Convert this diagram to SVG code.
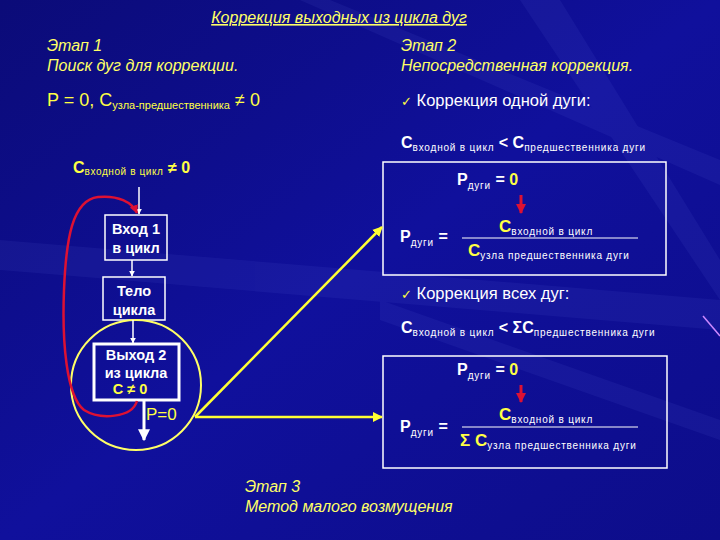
<svg xmlns="http://www.w3.org/2000/svg" width="720" height="540" viewBox="0 0 720 540">
<defs>
<linearGradient id="bg" x1="0" y1="0" x2="1" y2="1">
<stop offset="0" stop-color="#0b0b78"/>
<stop offset="0.5" stop-color="#10109c"/>
<stop offset="1" stop-color="#0d0d8a"/>
</linearGradient>
<marker id="aw" viewBox="0 0 10 10" refX="9" refY="5" markerWidth="4" markerHeight="4" orient="auto"><path d="M0,0 L10,5 L0,10 z" fill="#ffffff"/></marker>
<marker id="ay" viewBox="0 0 10 10" refX="9" refY="5" markerWidth="4" markerHeight="4" orient="auto"><path d="M0,0 L10,5 L0,10 z" fill="#ffff33"/></marker>
<marker id="ar" viewBox="0 0 10 10" refX="9" refY="5" markerWidth="3.5" markerHeight="3.5" orient="auto"><path d="M0,0 L10,5 L0,10 z" fill="#dd1133"/></marker>
<style>
text{font-family:"Liberation Sans",Arial,sans-serif}
.it{font-style:italic;fill:#ffff66;font-size:16px}
.w{fill:#ffffff}
.y{fill:#ffff44}
.b{font-weight:bold}
.box{fill:none;stroke:#ffffff;stroke-width:1.5}
.fb{fill:none;stroke:#ffffff;stroke-width:1.5}
.sub{font-size:10px;font-weight:normal;letter-spacing:0.8px}
</style>
</defs>
<rect width="720" height="540" fill="url(#bg)"/>
<g opacity="0.07" fill="#8090ff">
<polygon points="520,0 560,0 720,260 720,300"/>
<polygon points="300,0 330,0 720,160 720,185"/>
<polygon points="0,240 720,300 720,330 0,270"/>
<polygon points="380,300 720,420 720,440 380,320"/>
</g>
<line x1="703" y1="316" x2="720" y2="336" stroke="#cc88ff" stroke-width="1.5"/>

<g id="title">
<text x="339" y="23" text-anchor="middle" class="it" font-size="17.5" text-decoration="underline">Коррекция выходных из цикла дуг</text>
</g>
<g id="stage1">
<text x="47" y="51" class="it">Этап 1</text>
<text x="47" y="71" class="it">Поиск дуг для коррекции.</text>
<text x="47" y="106" class="y" font-size="18">P = 0, C<tspan font-size="11" dy="3">узла-предшественника</tspan><tspan dy="-3"> ≠ 0</tspan></text>
</g>
<g id="stage2">
<text x="401" y="51" class="it">Этап 2</text>
<text x="401" y="71" class="it">Непосредственная коррекция.</text>
<text x="401" y="106" font-size="16.5"><tspan class="y" font-size="13">✓</tspan><tspan class="w"> Коррекция одной дуги:</tspan></text>
<text x="401" y="148" class="w b" font-size="16">C<tspan class="sub" dy="3">входной в цикл</tspan><tspan dy="-3"> &lt; C</tspan><tspan class="sub" dy="3">предшественника дуги</tspan></text>
</g>
<g id="box1">
<rect x="383" y="162" width="283" height="113" class="box"/>
<text x="457" y="185" class="w b" font-size="16">P<tspan class="sub" dy="4">дуги</tspan><tspan dy="-4"> = </tspan><tspan class="y">0</tspan></text>
<text x="400" y="242" class="w b" font-size="16">P<tspan class="sub" dy="4">дуги</tspan><tspan dy="-4">  =</tspan></text>
<text x="499" y="232" class="b" font-size="17"><tspan class="y">C</tspan><tspan class="w sub" dy="3">входной в цикл</tspan></text>
<line x1="462" y1="238" x2="638" y2="238" stroke="#ffffff" stroke-width="1"/>
<text x="468" y="256" class="b" font-size="17"><tspan class="y">C</tspan><tspan class="w sub" dy="3">узла предшественника дуги</tspan></text>
</g>
<g id="stage2b">
<text x="401" y="299" font-size="16.5"><tspan class="y" font-size="13">✓</tspan><tspan class="w"> Коррекция всех дуг:</tspan></text>
<text x="401" y="333" class="w b" font-size="16">C<tspan class="sub" dy="3">входной в цикл</tspan><tspan dy="-3"> &lt; ΣC</tspan><tspan class="sub" dy="3">предшественника дуги</tspan></text>
</g>
<g id="box2">
<rect x="383" y="356" width="284" height="112" class="box"/>
<text x="457" y="375" class="w b" font-size="16">P<tspan class="sub" dy="4">дуги</tspan><tspan dy="-4"> = </tspan><tspan class="y">0</tspan></text>
<text x="400" y="432" class="w b" font-size="16">P<tspan class="sub" dy="4">дуги</tspan><tspan dy="-4">  =</tspan></text>
<text x="499" y="420" class="b" font-size="17"><tspan class="y">C</tspan><tspan class="w sub" dy="3">входной в цикл</tspan></text>
<line x1="462" y1="427" x2="638" y2="427" stroke="#ffffff" stroke-width="1"/>
<text x="460" y="446" class="b y" font-size="17">Σ C<tspan class="w sub" dy="3">узла предшественника дуги</tspan></text>
</g>
<g id="stage3">
<text x="245" y="492" class="it">Этап 3</text>
<text x="245" y="512" class="it">Метод малого возмущения</text>
</g>

<g id="cond">
<text x="73" y="173" class="y b" font-size="16">C<tspan font-size="10" font-weight="normal" letter-spacing="0.6" dy="2">входной в цикл</tspan><tspan dy="-2"> ≠ 0</tspan></text>
</g>
<g id="entry">
<rect x="105" y="215" width="62" height="45" class="fb"/>
<text x="136" y="234" text-anchor="middle" class="w b" font-size="14.5">Вход 1</text>
<text x="136" y="253" text-anchor="middle" class="w b" font-size="14.5">в цикл</text>
</g>
<g id="body">
<rect x="103" y="277" width="62" height="43" class="fb"/>
<text x="134" y="296" text-anchor="middle" class="w b" font-size="14.5">Тело</text>
<text x="134" y="315" text-anchor="middle" class="w b" font-size="14.5">цикла</text>
</g>
<g id="exit">
<rect x="94" y="344" width="85" height="56" fill="none" stroke="#ffffff" stroke-width="3"/>
<text x="136" y="360" text-anchor="middle" class="w b" font-size="14.5">Выход 2</text>
<text x="136" y="378" text-anchor="middle" class="w b" font-size="14.5">из цикла</text>
<text x="130" y="394" text-anchor="middle" class="y b" font-size="14.5">C ≠ 0</text>
</g>
<g id="highlight">
<circle cx="136" cy="385" r="65" fill="none" stroke="#ffff66" stroke-width="2"/>
</g>

<g id="connectors">
<line x1="139" y1="187" x2="139" y2="214" stroke="#ffffff" stroke-width="1.5" marker-end="url(#aw)"/>
<line x1="132" y1="260" x2="132" y2="276" stroke="#ffffff" stroke-width="1.5" marker-end="url(#aw)"/>
<line x1="133" y1="320" x2="133" y2="343" stroke="#ffffff" stroke-width="1.5" marker-end="url(#aw)"/>
<line x1="144" y1="401" x2="144" y2="440" stroke="#ffffff" stroke-width="3" marker-end="url(#aw)"/>
<path d="M137,401 C132,418 100,420 84,410 C66,396 62,340 64,290 C66,240 72,200 98,197 C118,195 132,202 137,213" fill="none" stroke="#dd1133" stroke-width="2.5" marker-end="url(#ar)"/>
<line x1="195" y1="417" x2="382" y2="227" stroke="#ffff33" stroke-width="2.5" marker-end="url(#ay)"/>
<line x1="195" y1="417" x2="382" y2="417" stroke="#ffff33" stroke-width="2.5" marker-end="url(#ay)"/>
<line x1="521" y1="195" x2="521" y2="213" stroke="#dd1133" stroke-width="3" marker-end="url(#ar)"/>
<line x1="521" y1="385" x2="521" y2="402" stroke="#dd1133" stroke-width="3" marker-end="url(#ar)"/>
</g>
<text x="146" y="420" class="y" font-size="17">P=0</text>
</svg>
